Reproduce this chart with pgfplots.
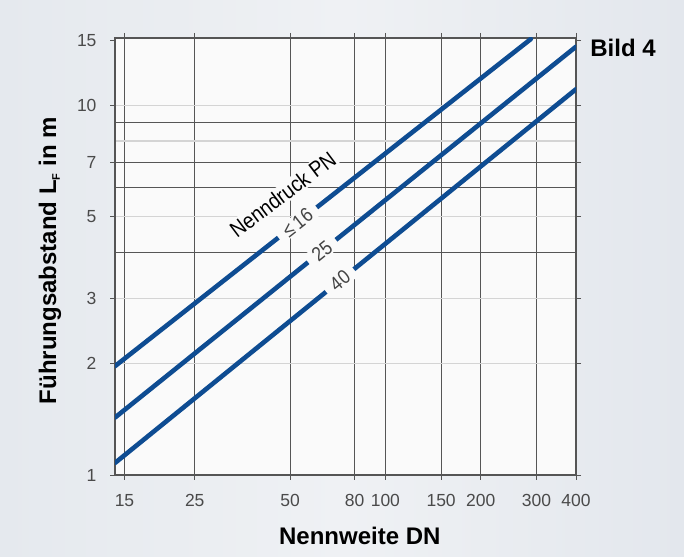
\documentclass[border=0pt]{standalone}
\usepackage{fontspec}
\setmainfont{Liberation Sans}
\newfontfamily\condfont[FakeStretch=0.88]{Liberation Sans}
\usepackage{pgfplots}
\pgfplotsset{compat=1.18}
\definecolor{bgL}{HTML}{E5E9EE}
\definecolor{bgM}{HTML}{EFF1F4}
\definecolor{bgR}{HTML}{E3E7ED}
\definecolor{plotbg}{HTML}{FAFAFA}
\definecolor{pipeblue}{HTML}{0E4C92}
\definecolor{griddark}{HTML}{555555}
\definecolor{gridlight}{HTML}{D4D4D4}
\definecolor{ticktext}{HTML}{4A4A4A}
\definecolor{numgray}{HTML}{444444}
\begin{document}
\begin{tikzpicture}[x=1pt,y=1pt]
\useasboundingbox (0,0) rectangle (684,556);
\shade[left color=bgL, right color=bgR, middle color=bgM] (0,0) rectangle (684,556);
\begin{axis}[
  at={(115pt,81pt)}, anchor=south west,
  scale only axis, width=461pt, height=437pt,
  xmode=log, ymode=log,
  xmin=14, xmax=400, ymin=1, ymax=15.2,
  axis background/.style={fill=plotbg},
  axis line style={draw=griddark, line width=1.2pt},
  xtick={15,25,50,80,100,150,200,300,400},
  xticklabels={15,25,50,80,100,150,200,300,400},
  ytick={1,2,3,5,7,10,15},
  yticklabels={1,2,3,5,7,10,15},
  minor ytick={2,3,5,8,10},
  xmajorgrids=true, xminorgrids=false, ymajorgrids=false, yminorgrids=true,
  major grid style={draw=griddark, line width=1pt},
  minor grid style={draw=gridlight, line width=1.3pt},
  extra y ticks={4,6,7,9},
  extra y tick labels={},
  extra y tick style={grid=major, major tick length=0pt},
  tick align=outside, major tick length=5pt, minor tick length=0pt,
  tick style={draw=griddark, line width=0.9pt},
  ticklabel style={font=\fontsize{17.5}{20}\selectfont, text=ticktext},
  xticklabel style={yshift=-11pt},
  yticklabel style={xshift=-10pt},
  xlabel={Nennweite DN},
  xlabel style={font=\fontsize{24}{28}\selectfont\bfseries, at={(axis description cs:0.531,0)}, anchor=center, yshift=-61pt},
  ylabel={Führungsabstand L\textsubscript{\fontsize{11}{11}\selectfont F} in m},
  ylabel style={font=\fontsize{24}{28}\selectfont\bfseries, at={(axis description cs:0,0.491)}, anchor=center, yshift=65pt},
]
\addplot[pipeblue, line width=4.6pt, line cap=round, no marks] coordinates {(14,1.97) (288,15.1)}
  node[pos=0.439, sloped, fill=plotbg, inner xsep=8pt, inner ysep=1pt, text=numgray, font=\condfont\fontsize{20}{22}\selectfont] {≤\,16};
\addplot[pipeblue, line width=4.6pt, line cap=round, no marks] coordinates {(14,1.43) (400,14.4)}
  node[pos=0.449, sloped, fill=plotbg, inner xsep=8pt, inner ysep=1pt, text=numgray, font=\condfont\fontsize{20}{22}\selectfont] {25};
\addplot[pipeblue, line width=4.6pt, line cap=round, no marks] coordinates {(14,1.078) (400,11.05)}
  node[pos=0.488, sloped, fill=plotbg, inner xsep=8pt, inner ysep=1pt, text=numgray, font=\condfont\fontsize{20}{22}\selectfont] {40};
\node[rotate=37, fill=plotbg, inner sep=1.5pt, font=\condfont\fontsize{22}{24}\selectfont] at (axis cs:47.4,5.74) {Nenndruck PN};
\end{axis}
\node[font=\fontsize{24}{28}\selectfont\bfseries] at (623,508) {Bild 4};
\end{tikzpicture}
\end{document}
